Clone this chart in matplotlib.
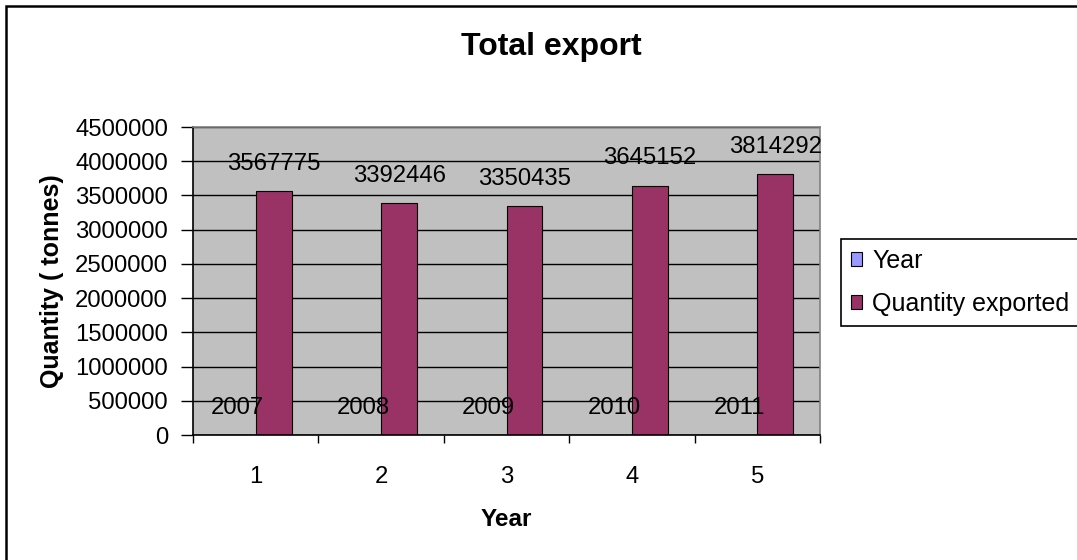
import numpy as np
import matplotlib
matplotlib.use("Agg")
import matplotlib.pyplot as plt
from matplotlib.patches import Patch, Rectangle
from matplotlib.ticker import FixedLocator, StrMethodFormatter

plt.rcParams['font.family'] = ['Liberation Sans', 'DejaVu Sans']

# export figures per year
categories = [1, 2, 3, 4, 5]
years = [2007, 2008, 2009, 2010, 2011]
quantity = [3567775, 3392446, 3350435, 3645152, 3814292]

W, H = 1077, 560
fig = plt.figure(figsize=(W / 100, H / 100), dpi=100)
fig.patch.set_facecolor("white")

# plot area in pixel terms
left, right, top, bottom = 193, 820, 127, 435
ax = fig.add_axes([left / W, 1 - bottom / H, (right - left) / W, (bottom - top) / H])
ax.set_facecolor("#C0C0C0")

x = np.array(categories, dtype=float)
bw = 0.287
b1 = ax.bar(x - bw / 2, years, width=bw, color="#9999FF", edgecolor="black", linewidth=0.8, zorder=2)
b2 = ax.bar(x + bw / 2, quantity, width=bw, color="#993366", edgecolor="black", linewidth=0.8, zorder=2)

# value labels above bars
for bars, vals in ((b1, years), (b2, quantity)):
    for r, v in zip(bars, vals):
        ax.annotate(str(v), (r.get_x() + r.get_width() / 2, v), xytext=(0, 19.5),
                    textcoords="offset points", ha="center", va="center",
                    fontsize=17.2, zorder=4)

ax.set_xlim(0.5, 5.5)
ax.set_ylim(0, 4500000)
ax.yaxis.set_major_locator(FixedLocator(np.arange(0, 4500001, 500000)))
ax.yaxis.set_major_formatter(StrMethodFormatter("{x:.0f}"))
ax.grid(axis="y", color="black", linewidth=1.0, zorder=1)
ax.set_axisbelow(True)

ax.set_xticks(categories)
ax.set_xticks(np.arange(0.5, 5.6, 1), minor=True)
ax.tick_params(axis="x", which="major", length=0, pad=22, labelsize=17.2)
ax.tick_params(axis="x", which="minor", length=6, width=1, direction="out")
ax.tick_params(axis="y", length=9, width=1, direction="out", pad=9, labelsize=17.2)

for s in ("left", "bottom"):
    ax.spines[s].set_color("black")
    ax.spines[s].set_linewidth(1.2)
for s in ("top", "right"):
    ax.spines[s].set_color("#808080")
    ax.spines[s].set_linewidth(1.2)

ax.set_xlabel("Year", fontsize=17.5, fontweight="bold")
ax.xaxis.set_label_coords(0.5, (bottom - 519) / (bottom - top))
ax.xaxis.label.set_va("center")
ax.set_ylabel("Quantity ( tonnes)", fontsize=18, fontweight="bold")
ax.yaxis.set_label_coords((52 - left) / (right - left), 0.5)
ax.yaxis.label.set_va("center")

fig.text(551 / W, 1 - 47 / H, "Total export", ha="center", va="center",
         fontsize=23, fontweight="bold")

handles = [Patch(facecolor="#9999FF", edgecolor="black", linewidth=0.8),
           Patch(facecolor="#993366", edgecolor="black", linewidth=0.8)]
leg = fig.legend(handles, ["Year", "Quantity exported"], loc="upper left",
                 bbox_to_anchor=(841 / W, 1 - 239 / H), borderaxespad=0,
                 fontsize=18, frameon=True, fancybox=False, framealpha=1,
                 handlelength=0.45, handleheight=0.45, handletextpad=0.4,
                 borderpad=0.4, labelspacing=0.75)
leg.get_frame().set_edgecolor("black")
leg.get_frame().set_linewidth(1.2)

# chart border, only left and top fall inside the image
fig.patches.append(Rectangle((6 / W, -0.1), 1.2, 1 - 6 / H + 0.1, transform=fig.transFigure,
                             fill=False, edgecolor="black", linewidth=1.8))

fig.savefig("out.png", dpi=100, facecolor="white")
